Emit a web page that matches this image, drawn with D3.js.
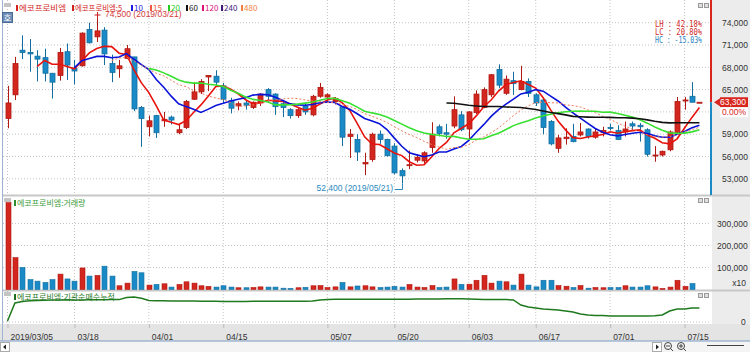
<!DOCTYPE html>
<html>
<head>
<meta charset="utf-8">
<script src="https://cdn.jsdelivr.net/npm/d3@7"></script>
<style>
body { margin: 0; background: #fff; }
svg { display: block; font-family: "Liberation Sans", Arial, sans-serif; }
</style>
</head>
<body>
<svg id="chart" width="750" height="352"></svg>
<script>
// trading day index -> date label on the time axis
var tickIdx = [0, 9, 19, 29, 43, 52, 62, 71, 81, 91];
var tickLabels = ['2019/03/05', '03/18', '04/01', '04/15', '05/07', '05/20', '06/03', '06/17', '07/01', '07/15'];

// daily candles, 2019/03/05 .. 2019/07/17 (94 trading days)
var opens = [61100, 64300, 70300, 70000, 69500, 69300, 67200, 66900, 70100, 67900,
    68200, 73100, 72100, 73000, 68500, 67800, 69200, 69400, 62600, 60000,
    61500, 60800, 61300, 59200, 59900, 63700, 64700, 66700, 66800, 65500,
    63500, 62800, 63200, 62600, 63200, 65000, 64400, 63100, 62300, 61500,
    62800, 61600, 64100, 64000, 63400, 62700, 58700, 58300, 55000, 55600,
    59000, 58300, 57400, 54100, 54800, 55500, 55400, 57200, 60000, 59200,
    60100, 61600, 59700, 61900, 62600, 64300, 67700, 64500, 66200, 65000,
    66100, 64300, 63600, 60700, 57100, 58400, 58700, 58900, 59700, 58600,
    59200, 59900, 59500, 59300, 60400, 60200, 59600, 56100, 56200, 56900,
    59200, 63500, 64100, 63300];
var highs = [65500, 69400, 72300, 71800, 70300, 70500, 67200, 70600, 71200, 69000,
    72700, 74000, 74500, 73400, 69700, 69000, 71000, 69400, 62800, 61500,
    61600, 62000, 61500, 60300, 63600, 66000, 66400, 66900, 67600, 65900,
    63900, 63400, 63600, 63400, 64500, 65200, 64500, 63600, 62500, 62500,
    63200, 64300, 65900, 64500, 64000, 62800, 59700, 59000, 56500, 59200,
    59500, 58400, 57800, 54400, 56800, 56300, 56700, 60600, 60300, 60400,
    64100, 62100, 62100, 64900, 65300, 67100, 68400, 66900, 67400, 68200,
    66500, 64500, 63800, 60900, 58900, 59800, 60400, 60500, 59800, 59700,
    60000, 60400, 60200, 60700, 60700, 60500, 59800, 57400, 56800, 59500,
    64000, 64000, 66000, 63300];
var lows = [59800, 63600, 69100, 67400, 66100, 66100, 63800, 66200, 66300, 65700,
    68100, 71200, 71400, 68300, 66000, 66600, 69100, 62100, 57300, 58700,
    58500, 60000, 60300, 59000, 59700, 63600, 64400, 64800, 65500, 63200,
    61800, 62200, 62300, 62400, 62800, 63200, 61600, 61300, 61100, 61200,
    61600, 61400, 63900, 63200, 63000, 57400, 55800, 55400, 53500, 55300,
    57700, 56000, 53600, 52400, 54300, 55200, 55100, 56500, 58700, 58400,
    59800, 59400, 58300, 61700, 62500, 64000, 65200, 64300, 64300, 64900,
    64000, 62800, 59000, 57500, 56500, 57600, 57900, 58700, 58400, 58400,
    58700, 59500, 58200, 58700, 59500, 58000, 56000, 55300, 56000, 56700,
    59200, 62300, 63300, 63300];
var closes = [63200, 68500, 70000, 69800, 69100, 67200, 66000, 70000, 68300, 67500,
    72600, 71300, 72900, 69800, 67300, 68200, 70500, 62400, 61100, 60800,
    59200, 61000, 60900, 59600, 63400, 64700, 66100, 66900, 66000, 63700,
    62500, 63100, 62900, 63300, 64400, 64100, 62700, 62600, 61500, 62300,
    62000, 64100, 65300, 64300, 63800, 58600, 59000, 56600, 55200, 59000,
    58300, 56100, 53800, 53400, 54900, 55900, 56500, 59000, 59100, 59000,
    62300, 59600, 62000, 64400, 65000, 67000, 65600, 66400, 65800, 66100,
    64500, 63200, 59900, 57700, 58500, 58600, 58000, 59300, 58700, 59300,
    59500, 59800, 58300, 59700, 60100, 60000, 56300, 56200, 56700, 59300,
    63400, 63600, 63300, 63300];

// volume in units of x10 shares
var volumes = [395000, 145000, 100000, 45000, 38000, 32000, 45000, 70000, 48000, 38000,
    98000, 61000, 64000, 106000, 61000, 17000, 29000, 82000, 76000, 20000,
    23000, 26000, 11000, 23000, 35000, 29000, 17000, 14000, 11000, 17000,
    11000, 8000, 8000, 9000, 12000, 11000, 11000, 6000, 5000, 8000,
    10000, 17000, 18000, 9000, 12000, 32000, 12000, 16000, 17000, 12000,
    9000, 11000, 14000, 11000, 23000, 11000, 9000, 18000, 9000, 11000,
    48000, 23000, 24000, 42000, 64000, 29000, 38000, 35000, 20000, 70000,
    20000, 12000, 42000, 42000, 18000, 15000, 9000, 18000, 6000, 9000,
    8000, 9000, 9000, 17000, 11000, 11000, 17000, 12000, 5000, 11000,
    42000, 14000, 27000, 0];

// institutional net buying, cumulative (shares)
var instCum = [10000, 190000, 205000, 212000, 215000, 218000, 220000, 220000, 222000, 220000,
    221000, 223000, 222000, 222000, 224000, 224000, 245000, 250000, 238000, 215000,
    212000, 212000, 210000, 210000, 210000, 210000, 208000, 208000, 208000, 206000,
    206000, 206000, 206000, 207000, 207000, 207000, 207000, 207000, 207000, 207000,
    207000, 210000, 220000, 225000, 228000, 228000, 228000, 228000, 228000, 228000,
    228000, 228000, 228000, 228000, 228000, 230000, 230000, 230000, 230000, 232000,
    232000, 232000, 230000, 228000, 225000, 225000, 225000, 225000, 220000, 170000,
    150000, 140000, 130000, 125000, 120000, 110000, 100000, 80000, 70000, 65000,
    65000, 60000, 60000, 60000, 60000, 60000, 60000, 62000, 70000, 110000,
    130000, 130000, 140000, 140000];

var priceTicks = [53000, 56000, 59000, 62000, 65000, 68000, 71000, 74000];
var volTicks = [100000, 200000, 300000];

var maPeriods = [5, 10, 15, 20, 60];
var maColors = ['#e8120c', '#0a14d8', '#f07a5a', '#38e030', '#111111'];

// legend items of the price panel
var legendText = ['에코프로비엠', '에코프로비엠:5', '10', '15', '20', '60', '120', '240', '480'];
var legendColors = ['#d21f1f', '#d21f1f', '#1c1ce0', '#f05a40', '#22cc22', '#111111', '#e0107a', '#3c1a80', '#f08040'];
var legendX = [16, 72, 131, 150, 168, 186, 202, 221, 241];
var legendW = [47, 47, 0, 0, 0, 0, 0, 0, 0];

var svg = d3.select('#chart');

var plotL = 3, plotR = 711;
var mainBot = 195, volBot = 290, indBot = 323;

var x = d3.scaleLinear().domain([0, 93]).range([7.5, 7.5 + 7.44 * 93]);
var yPrice = d3.scaleLinear().domain([53000, 74000]).range([178.8, 22.7]);
var yVol = d3.scaleLinear().domain([0, 300000]).range([289.5, 223.5]);
var yInst = d3.scaleLinear().domain([0, 300000]).range([322, 292]);

var upFill = '#d3261e', upLine = '#b01912';
var dnFill = '#1a8ac6', dnLine = '#136ea0';
var gridColor = '#c4c4c4';
var lastClose = closes[closes.length - 1];

// right axis column
svg.append('rect').attr('x', 712).attr('y', 0).attr('width', 38).attr('height', indBot + 1).attr('fill', '#ececec');

// x axis band + scroll bar
svg.append('rect').attr('x', 0).attr('y', indBot + 1).attr('width', 750).attr('height', 17).attr('fill', '#e4e4e4');
svg.append('rect').attr('x', 0).attr('y', 341).attr('width', 750).attr('height', 11).attr('fill', '#f4f4f4');
svg.append('line').attr('x1', 0).attr('x2', 750).attr('y1', 341).attr('y2', 341).attr('stroke', '#7a9cc6');

// vertical grid lines
svg.append('g').selectAll('line').data(tickIdx).enter().append('line')
    .attr('x1', function(d) { return x(d); }).attr('x2', function(d) { return x(d); })
    .attr('y1', 0).attr('y2', indBot)
    .attr('stroke', gridColor).attr('stroke-dasharray', '1,2');

// horizontal grid lines
svg.append('g').selectAll('line').data(priceTicks).enter().append('line')
    .attr('x1', plotL).attr('x2', plotR)
    .attr('y1', function(d) { return yPrice(d); }).attr('y2', function(d) { return yPrice(d); })
    .attr('stroke', gridColor).attr('stroke-dasharray', '1,2');
svg.append('g').selectAll('line').data(volTicks).enter().append('line')
    .attr('x1', plotL).attr('x2', plotR)
    .attr('y1', function(d) { return yVol(d); }).attr('y2', function(d) { return yVol(d); })
    .attr('stroke', gridColor).attr('stroke-dasharray', '1,2');
svg.append('line').attr('x1', plotL).attr('x2', plotR).attr('y1', yInst(0)).attr('y2', yInst(0))
    .attr('stroke', gridColor).attr('stroke-dasharray', '1,2');

// panel separators
[mainBot, volBot].forEach(function(y) {
    svg.append('line').attr('x1', plotL).attr('x2', 750).attr('y1', y + 0.5).attr('y2', y + 0.5)
        .attr('stroke', '#c8c8c8').attr('stroke-width', 2);
});

// left border
svg.append('line').attr('x1', 2.5).attr('x2', 2.5).attr('y1', 0).attr('y2', 341).attr('stroke', '#9db3cf');

// candles
var candles = svg.append('g').selectAll('g').data(closes).enter().append('g');
candles.append('line')
    .attr('x1', function(d, i) { return Math.round(x(i)) + 0.5; })
    .attr('x2', function(d, i) { return Math.round(x(i)) + 0.5; })
    .attr('y1', function(d, i) { return yPrice(highs[i]); })
    .attr('y2', function(d, i) { return yPrice(lows[i]); })
    .attr('stroke', function(d, i) { return d >= opens[i] ? upLine : dnLine; });
candles.append('rect')
    .attr('x', function(d, i) { return Math.round(x(i)) - 2; })
    .attr('width', 5)
    .attr('y', function(d, i) { return yPrice(Math.max(d, opens[i])); })
    .attr('height', function(d, i) { return Math.max(1, Math.abs(yPrice(d) - yPrice(opens[i]))); })
    .attr('fill', function(d, i) { return d >= opens[i] ? upFill : dnFill; })
    .attr('stroke', function(d, i) { return d >= opens[i] ? upLine : dnLine; })
    .attr('stroke-width', 0.8);

// moving averages
function sma(n) {
    var out = [];
    for (var i = n - 1; i < closes.length; i++) {
        out.push([i, d3.mean(closes.slice(i - n + 1, i + 1))]);
    }
    return out;
}
var maLine = d3.line().x(function(d) { return x(d[0]); }).y(function(d) { return yPrice(d[1]); });
maPeriods.forEach(function(n, k) {
    svg.append('path').datum(sma(n)).attr('d', maLine)
        .attr('fill', 'none').attr('stroke', maColors[k])
        .attr('stroke-width', n === 15 ? 1 : 1.6)
        .attr('stroke-dasharray', n === 15 ? '2,2' : null);
});

// volume bars
svg.append('g').selectAll('rect').data(volumes).enter().append('rect')
    .attr('x', function(d, i) { return Math.round(x(i)) - 2; })
    .attr('width', 5)
    .attr('y', function(d) { return yVol(d); })
    .attr('height', function(d) { return yVol(0) - yVol(d); })
    .attr('fill', function(d, i) { return closes[i] >= opens[i] ? upFill : dnFill; })
    .attr('stroke', function(d, i) { return closes[i] >= opens[i] ? upLine : dnLine; })
    .attr('stroke-width', 0.6);

// institutional cumulative line
svg.append('path').datum(instCum)
    .attr('d', d3.line().x(function(d, i) { return x(i); }).y(function(d) { return yInst(d); }))
    .attr('fill', 'none').attr('stroke', '#1f7a1f').attr('stroke-width', 1.5);

// current price bar
svg.append('line').attr('x1', 711).attr('x2', 711).attr('y1', 0).attr('y2', yPrice(lastClose))
    .attr('stroke', '#d8261e').attr('stroke-width', 2);
svg.append('line').attr('x1', 711).attr('x2', 711).attr('y1', yPrice(lastClose)).attr('y2', mainBot)
    .attr('stroke', '#1a8ac6').attr('stroke-width', 2);

// right axes (the label nearest the current price is hidden by the price box)
var labelTicks = priceTicks.filter(function(d) { return Math.abs(d - lastClose) > 1500; });
var priceAxis = d3.axisRight(yPrice).tickValues(labelTicks).tickFormat(d3.format(',')).tickSize(0).tickPadding(0);
var pa = svg.append('g').attr('transform', 'translate(722,0)').call(priceAxis);
var volAxis = d3.axisRight(yVol).tickValues(volTicks).tickFormat(d3.format(',')).tickSize(0).tickPadding(0);
var va = svg.append('g').attr('transform', 'translate(717,0)').call(volAxis);
var instAxis = d3.axisRight(yInst).tickValues([0]).tickSize(0).tickPadding(0);
var ia = svg.append('g').attr('transform', 'translate(741,0)').call(instAxis);
[pa, va, ia].forEach(function(g) {
    g.select('.domain').remove();
    g.selectAll('text').attr('font-size', 8.5).attr('fill', '#333').attr('font-family', '"Liberation Sans", Arial, sans-serif');
});
svg.append('text').attr('x', 746).attr('y', 286).attr('text-anchor', 'end')
    .attr('font-size', 8.5).attr('fill', '#333').text('x10');

// current price label
var yc = yPrice(lastClose);
svg.append('path').attr('d', 'M714,' + yc + 'L720,' + (yc - 4) + 'L720,' + (yc + 4) + 'Z').attr('fill', '#d8261e');
svg.append('rect').attr('x', 720).attr('y', yc - 5).attr('width', 28).attr('height', 10).attr('fill', '#d8261e');
svg.append('text').attr('x', 746).attr('y', yc + 3).attr('text-anchor', 'end')
    .attr('font-size', 8.5).attr('fill', '#fff').text(d3.format(',')(lastClose));
svg.append('rect').attr('x', 720).attr('y', yc + 5).attr('width', 28).attr('height', 10).attr('fill', '#fff');
svg.append('text').attr('x', 746).attr('y', yc + 13).attr('text-anchor', 'end')
    .attr('font-size', 8.5).attr('fill', '#d8261e').text('0.00%');

// time axis
var timeAxis = d3.axisBottom(x).tickValues(tickIdx)
    .tickFormat(function(d) { return tickLabels[tickIdx.indexOf(d)]; })
    .tickSize(4).tickPadding(6);
var ta = svg.append('g').attr('transform', 'translate(0,' + (indBot + 1) + ')').call(timeAxis);
ta.select('.domain').remove();
ta.selectAll('line').attr('stroke', '#bbb');
ta.selectAll('text').attr('text-anchor', 'start').attr('dx', 2.5)
    .attr('font-size', 8.5).attr('fill', '#333').attr('font-family', '"Liberation Sans", Arial, sans-serif');

// high / low markers
var hiIdx = highs.indexOf(d3.max(highs));
var loIdx = lows.indexOf(d3.min(lows));
var hx = Math.round(x(hiIdx)) + 0.5;
svg.append('line').attr('x1', hx).attr('x2', hx).attr('y1', 12).attr('y2', yPrice(highs[hiIdx])).attr('stroke', '#c82020');
svg.append('line').attr('x1', hx - 3).attr('x2', hx + 3).attr('y1', 15).attr('y2', 15).attr('stroke', '#c82020');
svg.append('text').attr('x', 105).attr('y', 17).attr('font-size', 8.5).attr('fill', '#d23a3a')
    .text(d3.format(',')(highs[hiIdx]) + ' (2019/03/21)');
var lx = Math.round(x(loIdx)) + 0.5;
svg.append('path').attr('d', 'M395,189.5L' + lx + ',189.5L' + lx + ',' + yPrice(lows[loIdx]))
    .attr('fill', 'none').attr('stroke', '#2a8ac0');
svg.append('text').attr('x', 393).attr('y', 191).attr('text-anchor', 'end').attr('font-size', 8.5).attr('fill', '#2a8ac0')
    .text(d3.format(',')(lows[loIdx]) + ' (2019/05/21)');

// LH / LC / HC box
var stats = [['LH :  42.18%', '#d02828'], ['LC :  20.80%', '#d02828'], ['HC : -15.03%', '#2a7fc0']];
svg.append('g').selectAll('text').data(stats).enter().append('text')
    .attr('x', 702).attr('y', function(d, i) { return 26.5 + i * 8.3; })
    .attr('text-anchor', 'end').attr('font-family', '"DejaVu Sans Mono", monospace')
    .attr('font-size', 8).attr('textLength', 47).attr('lengthAdjust', 'spacingAndGlyphs')
    .attr('fill', function(d) { return d[1]; }).text(function(d) { return d[0]; });

// legends
var kr = '"Noto Sans CJK KR", sans-serif';
svg.append('rect').attr('x', 4).attr('y', 3).attr('width', 7).attr('height', 4).attr('fill', '#c4c4c4');
var lg = svg.append('g').selectAll('g').data(legendText).enter().append('g');
lg.append('rect').attr('x', function(d, i) { return legendX[i]; }).attr('y', 5).attr('width', 2).attr('height', 6)
    .attr('fill', function(d, i) { return legendColors[i]; });
lg.append('text').attr('x', function(d, i) { return legendX[i] + 3; }).attr('y', 11)
    .attr('font-family', kr).attr('font-size', 8).attr('fill', function(d, i) { return legendColors[i]; })
    .attr('textLength', function(d, i) { return legendW[i] || null; })
    .attr('lengthAdjust', 'spacingAndGlyphs')
    .text(function(d) { return d; });

svg.append('rect').attr('x', 2.5).attr('y', 12.5).attr('width', 10).attr('height', 10).attr('fill', '#6f8fb8').attr('stroke', '#4a6a94');
svg.append('text').attr('x', 7.5).attr('y', 20.5).attr('text-anchor', 'middle').attr('font-family', kr)
    .attr('font-size', 8).attr('fill', '#fff').text('호');

svg.append('rect').attr('x', 4).attr('y', 198).attr('width', 7).attr('height', 4).attr('fill', '#c4c4c4');
svg.append('rect').attr('x', 14).attr('y', 200).attr('width', 2).attr('height', 6).attr('fill', '#2e8b2e');
svg.append('text').attr('x', 17).attr('y', 206).attr('font-family', kr).attr('font-size', 8).attr('fill', '#3a9a3a').text('에코프로비엠:거래량');

svg.append('rect').attr('x', 4).attr('y', 292).attr('width', 7).attr('height', 4).attr('fill', '#c4c4c4');
svg.append('rect').attr('x', 14).attr('y', 294).attr('width', 2).attr('height', 6).attr('fill', '#1f6e1f');
svg.append('text').attr('x', 17).attr('y', 300).attr('font-family', kr).attr('font-size', 8).attr('fill', '#2a7a2a').text('에코프로비엠:기관순매수누적');

// panel buttons
[3, 198, 293].forEach(function(y) {
    [698, 704].forEach(function(bx) {
        svg.append('rect').attr('x', bx + 0.5).attr('y', y + 0.5).attr('width', 4).attr('height', 4)
            .attr('fill', '#e0e0e0').attr('stroke', '#999');
    });
});

// scroll bar buttons
svg.append('rect').attr('x', 0.5).attr('y', 342.5).attr('width', 9).attr('height', 9).attr('fill', '#fff').attr('stroke', '#aaa');
svg.append('path').attr('d', 'M3,347L6,344.5L6,349.5Z').attr('fill', '#222');
svg.append('rect').attr('x', 652.5).attr('y', 342.5).attr('width', 9).attr('height', 9).attr('fill', '#fff').attr('stroke', '#aaa');
svg.append('path').attr('d', 'M659,347L656,344.5L656,349.5Z').attr('fill', '#222');
[668, 681].forEach(function(cx, k) {
    svg.append('circle').attr('cx', cx).attr('cy', 346).attr('r', 3.5).attr('fill', 'none').attr('stroke', '#444');
    svg.append('line').attr('x1', cx + 2.5).attr('x2', cx + 5).attr('y1', 348.5).attr('y2', 351).attr('stroke', '#444');
    svg.append('line').attr('x1', cx - 2).attr('x2', cx + 2).attr('y1', 346).attr('y2', 346).attr('stroke', '#444');
    if (k === 1) svg.append('line').attr('x1', cx).attr('x2', cx).attr('y1', 344).attr('y2', 348).attr('stroke', '#444');
});
svg.append('line').attr('x1', 707).attr('x2', 744).attr('y1', 345.5).attr('y2', 345.5).attr('stroke', '#444');
</script>
</body>
</html>
